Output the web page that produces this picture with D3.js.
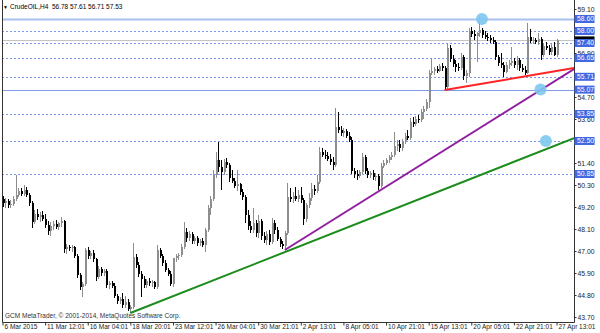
<!DOCTYPE html>
<html>
<head>
<meta charset="utf-8">
<script src="https://cdn.jsdelivr.net/npm/d3@7"></script>
<style>
    body { margin: 0; background: #fff; }
    svg { display: block; }
</style>
</head>
<body>
<div id="chart"></div>
<script>
const symbolTitle = "CrudeOIL,H4  56.78 57.61 56.71 57.53";
const copyright = "GCM MetaTrader, \u00a9 2001-2014, MetaQuotes Software Corp.";

const timeLabels = ["6 Mar 2015", "11 Mar 12:01", "16 Mar 04:01", "18 Mar 20:01", "23 Mar 12:01",
    "26 Mar 04:01", "30 Mar 21:01", "2 Apr 13:01", "8 Apr 05:01", "10 Apr 21:01",
    "15 Apr 13:01", "20 Apr 05:01", "22 Apr 21:01", "27 Apr 13:01"];
const timeLabelBars = [0, 16, 32, 48, 64, 80, 96, 112, 128, 144, 160, 176, 192, 208];
const priceTicks = [43.70, 44.80, 45.90, 47.00, 48.10, 49.20, 50.30, 51.40, 52.50,
    53.60, 54.70, 55.80, 56.90, 58.00, 59.10];

// H4 bars, oldest first
const opens = [
    49.60, 49.40, 49.50, 49.30, 49.35, 49.60, 49.80, 50.00, 49.85, 50.05,
    49.80, 49.40, 48.45, 48.85, 48.70, 48.80, 48.60, 48.30, 48.00, 48.25,
    48.35, 48.20, 48.40, 48.50, 47.10, 47.20, 47.15, 47.20, 46.75, 45.80,
    45.20, 45.35, 47.05, 46.75, 46.90, 46.60, 45.70, 46.10, 45.90, 46.00,
    45.30, 45.40, 45.25, 44.75, 44.50, 44.60, 44.30, 44.45, 44.10, 44.20,
    46.70, 46.30, 45.85, 45.60, 45.30, 45.50, 45.40, 45.45, 45.20, 47.05,
    46.75, 46.40, 46.05, 45.85, 45.35, 46.65, 46.75, 46.80, 47.20, 47.95,
    47.65, 47.85, 47.50, 47.65, 47.40, 47.50, 47.30, 48.05, 49.15, 49.60,
    50.80, 51.55, 51.20, 50.95, 51.45, 51.30, 50.65, 50.50, 50.25, 50.35,
    49.95, 49.70, 48.80, 48.25, 48.05, 48.40, 47.90, 48.50, 47.75, 47.55,
    47.85, 47.45, 48.40, 48.05, 47.60, 47.35, 47.25, 47.90, 49.70, 49.60,
    49.75, 49.60, 49.80, 49.55, 48.60, 49.30, 49.65, 50.10, 50.00, 50.45,
    51.95, 51.80, 51.75, 51.60, 51.45, 51.30, 53.20, 53.05, 52.90, 53.00,
    52.75, 52.55, 51.00, 50.85, 50.75, 50.95, 51.70, 51.00, 50.80, 50.90,
    50.70, 50.75, 50.25, 51.25, 51.40, 51.55, 51.70, 51.80, 52.25, 52.35,
    52.15, 52.50, 52.75, 52.65, 53.45, 53.35, 53.60, 53.55, 53.95, 54.10,
    54.45, 55.90, 56.00, 56.10, 56.00, 56.25, 56.15, 55.20, 57.15, 56.60,
    56.35, 56.20, 56.15, 56.70, 55.75, 55.90, 58.00, 57.85, 57.75, 57.90,
    58.05, 57.80, 57.70, 57.65, 57.55, 57.45, 56.70, 56.40, 56.30, 55.95,
    56.30, 56.40, 56.50, 56.30, 56.55, 56.15, 56.05, 55.90, 57.70, 57.50,
    57.55, 57.45, 57.60, 56.80, 57.25, 57.15, 56.95, 57.20, 56.78];
const highs = [
    49.75, 49.65, 49.60, 49.55, 49.75, 50.80, 50.15, 50.15, 50.30, 50.20,
    49.90, 49.50, 49.05, 49.10, 48.95, 49.00, 48.85, 48.50, 48.45, 48.50,
    48.55, 48.45, 48.70, 48.55, 47.35, 47.30, 47.30, 47.25, 46.85, 45.90,
    45.45, 47.15, 47.20, 47.00, 47.05, 46.65, 46.25, 46.20, 46.10, 46.10,
    45.50, 45.50, 45.40, 44.85, 44.70, 44.90, 44.75, 44.60, 44.30, 47.40,
    46.85, 46.45, 46.00, 45.75, 45.60, 45.65, 45.55, 45.50, 47.30, 47.15,
    46.85, 46.55, 46.15, 46.00, 46.65, 46.85, 46.90, 47.35, 48.45, 48.15,
    48.00, 47.95, 47.75, 47.75, 47.60, 47.65, 48.15, 49.30, 49.75, 51.05,
    51.95, 52.45, 51.55, 51.60, 51.65, 51.40, 51.05, 50.65, 51.05, 50.40,
    50.10, 49.80, 49.05, 48.50, 49.15, 48.55, 48.80, 48.60, 47.95, 48.00,
    48.05, 48.65, 48.55, 48.20, 47.70, 47.50, 48.00, 50.40, 50.15, 49.95,
    50.20, 50.05, 50.20, 49.65, 49.40, 49.90, 50.40, 50.30, 50.80, 52.20,
    52.15, 52.05, 51.95, 51.85, 51.70, 54.15, 53.95, 53.25, 53.15, 53.10,
    52.95, 52.70, 51.15, 51.05, 51.05, 51.90, 51.80, 51.15, 51.00, 51.05,
    50.90, 50.85, 51.40, 51.55, 51.65, 51.80, 51.95, 52.95, 52.55, 52.55,
    52.60, 52.90, 53.05, 53.65, 53.70, 53.75, 53.80, 54.10, 54.25, 54.60,
    56.05, 56.65, 56.20, 56.25, 56.35, 56.40, 56.25, 57.40, 57.30, 56.80,
    56.55, 56.40, 56.90, 56.80, 56.05, 58.15, 58.20, 58.05, 57.95, 58.70,
    58.15, 58.00, 57.90, 57.80, 57.70, 57.55, 56.80, 56.90, 56.45, 56.45,
    56.55, 57.20, 56.65, 56.75, 56.65, 56.35, 56.25, 58.40, 58.10, 57.70,
    57.65, 57.90, 57.70, 57.35, 57.45, 57.30, 57.35, 57.45, 57.61];
const lows = [
    49.20, 49.15, 49.15, 49.15, 49.25, 49.50, 49.70, 49.75, 49.75, 49.70,
    49.25, 48.15, 48.35, 48.55, 48.45, 48.50, 48.15, 47.80, 47.75, 48.05,
    48.10, 48.05, 48.20, 46.90, 46.85, 47.00, 46.95, 46.65, 45.65, 45.05,
    44.70, 45.25, 46.60, 46.60, 46.45, 45.50, 45.60, 45.75, 45.75, 45.15,
    45.10, 45.15, 44.65, 44.35, 44.35, 44.15, 44.15, 44.00, 43.90, 44.10,
    46.15, 45.70, 44.70, 45.15, 45.15, 45.25, 45.20, 45.10, 45.10, 46.65,
    46.25, 45.95, 45.75, 45.25, 45.20, 46.45, 46.55, 46.70, 47.10, 47.45,
    47.50, 47.35, 47.35, 47.25, 47.25, 47.20, 46.95, 47.95, 48.80, 49.50,
    50.65, 50.95, 50.05, 50.80, 51.15, 50.45, 50.40, 50.15, 50.00, 49.80,
    49.55, 48.40, 48.05, 47.90, 47.90, 47.70, 47.65, 47.55, 47.40, 47.30,
    47.30, 47.35, 47.85, 47.50, 47.20, 47.10, 47.05, 47.80, 49.45, 49.40,
    49.50, 49.45, 49.40, 48.30, 48.45, 49.15, 49.50, 49.80, 49.90, 50.35,
    51.70, 51.60, 51.50, 51.30, 51.05, 51.20, 52.90, 52.75, 52.70, 52.65,
    52.45, 50.85, 50.65, 50.55, 50.65, 50.85, 50.85, 50.65, 50.65, 50.55,
    50.50, 50.05, 50.15, 51.15, 51.30, 51.40, 51.55, 51.70, 52.00, 51.95,
    52.00, 52.35, 52.55, 52.55, 53.20, 53.25, 53.40, 53.45, 53.60, 54.00,
    54.15, 55.80, 55.80, 55.90, 55.95, 56.00, 55.05, 55.10, 56.45, 56.20,
    55.95, 56.00, 56.05, 55.55, 55.40, 55.70, 57.70, 57.55, 56.45, 57.70,
    57.65, 57.60, 57.50, 57.40, 57.35, 56.55, 56.25, 56.15, 55.70, 55.90,
    56.10, 56.25, 56.15, 56.05, 56.00, 55.95, 55.80, 55.85, 57.40, 57.35,
    57.35, 57.30, 56.55, 56.70, 57.05, 56.80, 56.80, 56.75, 56.71];
const closes = [
    49.40, 49.50, 49.30, 49.35, 49.60, 49.80, 50.00, 49.85, 50.05, 49.80,
    49.40, 48.45, 48.85, 48.70, 48.80, 48.60, 48.30, 48.00, 48.25, 48.35,
    48.20, 48.40, 48.50, 47.10, 47.20, 47.15, 47.20, 46.75, 45.80, 45.20,
    45.35, 47.05, 46.75, 46.90, 46.60, 45.70, 46.10, 45.90, 46.00, 45.30,
    45.40, 45.25, 44.75, 44.50, 44.60, 44.30, 44.45, 44.10, 44.20, 46.70,
    46.30, 45.85, 45.60, 45.30, 45.50, 45.40, 45.45, 45.20, 47.05, 46.75,
    46.40, 46.05, 45.85, 45.35, 46.65, 46.75, 46.80, 47.20, 47.95, 47.65,
    47.85, 47.50, 47.65, 47.40, 47.50, 47.30, 48.05, 49.15, 49.60, 50.80,
    51.55, 51.20, 50.95, 51.45, 51.30, 50.65, 50.50, 50.25, 50.35, 49.95,
    49.70, 48.80, 48.25, 48.05, 48.40, 47.90, 48.50, 47.75, 47.55, 47.85,
    47.45, 48.40, 48.05, 47.60, 47.35, 47.25, 47.90, 49.70, 49.60, 49.75,
    49.60, 49.80, 49.55, 48.60, 49.30, 49.65, 50.10, 50.00, 50.45, 51.95,
    51.80, 51.75, 51.60, 51.45, 51.30, 53.20, 53.05, 52.90, 53.00, 52.75,
    52.55, 51.00, 50.85, 50.75, 50.95, 51.70, 51.00, 50.80, 50.90, 50.70,
    50.75, 50.25, 51.25, 51.40, 51.55, 51.70, 51.80, 52.25, 52.35, 52.15,
    52.50, 52.75, 52.65, 53.45, 53.35, 53.60, 53.55, 53.95, 54.10, 54.45,
    55.90, 56.00, 56.10, 56.00, 56.25, 56.15, 55.20, 57.15, 56.60, 56.35,
    56.20, 56.15, 56.70, 55.75, 55.90, 58.00, 57.85, 57.75, 57.90, 58.05,
    57.80, 57.70, 57.65, 57.55, 57.45, 56.70, 56.40, 56.30, 55.95, 56.30,
    56.40, 56.50, 56.30, 56.55, 56.15, 56.05, 55.90, 57.70, 57.50, 57.55,
    57.45, 57.60, 56.80, 57.25, 57.15, 56.95, 57.20, 56.78, 57.53];

// horizontal levels drawn on the chart
const solidLevels = [58.60, 55.07];
const dottedLevels = [58.00, 57.40, 56.65, 55.71, 53.85, 52.50, 50.85];
const labelledLevels = [58.60, 58.00, 57.40, 56.65, 55.71, 55.07, 53.85, 52.50, 50.85];
const bidPrice = 57.53;

// trend lines: two anchors [bar, price], extended to the right edge
const greenTrend = [[48, 43.90], [160, 49.78]];
const purpleTrend = [[106, 47.05], [208, 55.55]];
const redTrend = [[166, 55.05], [208, 56.00]];

// touch markers
const markerBars = [180, 202, 204];
const markerPrices = [58.60, 55.07, 52.50];

const width = 600, height = 333;
const plotLeft = 2, plotRight = 574, plotTop = 0, plotBottom = 322;
const font = "'Liberation Sans', Arial, sans-serif";

const bars = closes.map((c, i) => ({ i, o: opens[i], h: highs[i], l: lows[i], c }));

const x = d3.scaleLinear().domain([0, 208]).range([2.5, 556.5]);
const y = d3.scaleLinear().domain([43.70, 59.10]).range([317, 9]);

const svg = d3.create("svg")
    .attr("width", width)
    .attr("height", height)
    .attr("viewBox", [0, 0, width, height])
    .style("font-family", font);

svg.append("rect").attr("width", width).attr("height", height).attr("fill", "#fff");

svg.append("defs").append("clipPath").attr("id", "plot")
    .append("rect")
    .attr("x", plotLeft).attr("y", plotTop)
    .attr("width", plotRight - plotLeft).attr("height", plotBottom - plotTop);

const plot = svg.append("g").attr("clip-path", "url(#plot)");

// Levels
plot.append("g")
    .selectAll("line")
    .data(solidLevels)
    .enter().append("line")
    .attr("x1", plotLeft).attr("x2", plotRight)
    .attr("y1", d => Math.round(y(d)) + 0.5)
    .attr("y2", d => Math.round(y(d)) + 0.5)
    .attr("stroke", (d, i) => i === 0 ? "#aac0f0" : "#7f9be6")
    .attr("stroke-width", (d, i) => i === 0 ? 2 : 1);

plot.append("g")
    .selectAll("line")
    .data(dottedLevels)
    .enter().append("line")
    .attr("x1", plotLeft).attr("x2", plotRight)
    .attr("y1", d => Math.round(y(d)) + 0.5)
    .attr("y2", d => Math.round(y(d)) + 0.5)
    .attr("stroke", "#7c98ea")
    .attr("stroke-dasharray", "2,2");

plot.append("line")
    .attr("x1", plotLeft).attr("x2", plotRight)
    .attr("y1", Math.round(y(bidPrice)) + 0.5)
    .attr("y2", Math.round(y(bidPrice)) + 0.5)
    .attr("stroke", "#c4c4c4");

// Candles
const candle = plot.append("g")
    .attr("shape-rendering", "crispEdges")
    .selectAll("g")
    .data(bars)
    .enter().append("g")
    .attr("fill", d => d.c >= d.o ? "#8e8e8e" : "#000")
    .attr("stroke", d => d.c >= d.o ? "#8e8e8e" : "#000");

candle.append("line")
    .attr("x1", d => Math.round(x(d.i)) + 0.5)
    .attr("x2", d => Math.round(x(d.i)) + 0.5)
    .attr("y1", d => y(d.h))
    .attr("y2", d => y(d.l));

candle.append("rect")
    .attr("stroke", "none")
    .attr("x", d => Math.round(x(d.i)) - 0.5)
    .attr("width", 2)
    .attr("y", d => y(Math.max(d.o, d.c)))
    .attr("height", d => Math.max(1, Math.abs(y(d.o) - y(d.c))));

// Trend lines
const xEnd = x.invert(plotRight);
[[greenTrend, "#1c8c1c"], [purpleTrend, "#8f1f9f"], [redTrend, "#ff2323"]].forEach(([t, color]) => {
    const slope = (t[1][1] - t[0][1]) / (t[1][0] - t[0][0]);
    plot.append("line")
        .attr("x1", x(t[0][0]))
        .attr("y1", y(t[0][1]))
        .attr("x2", x(xEnd))
        .attr("y2", y(t[0][1] + slope * (xEnd - t[0][0])))
        .attr("stroke", color)
        .attr("stroke-width", 2);
});

// Touch markers
plot.append("g")
    .selectAll("circle")
    .data(markerBars)
    .enter().append("circle")
    .attr("cx", d => x(d))
    .attr("cy", (d, i) => y(markerPrices[i]))
    .attr("r", 6)
    .attr("fill", "#7ec6ef")
    .attr("fill-opacity", 0.9);

// Frame
svg.append("path")
    .attr("d", `M${plotLeft + 0.5},${plotTop}V${plotBottom + 0.5}H${plotRight + 0.5}V${plotTop}`)
    .attr("fill", "none")
    .attr("stroke", "#333");

// Price axis
const yAxis = svg.append("g")
    .attr("transform", `translate(${plotRight + 0.5},0)`)
    .call(d3.axisRight(y).tickValues(priceTicks).tickFormat(d3.format(".2f")).tickSize(2).tickPadding(1));
yAxis.select(".domain").remove();
yAxis.selectAll("line").attr("stroke", "#333");
yAxis.selectAll("text")
    .attr("font-family", font)
    .attr("font-size", 6.8)
    .attr("fill", "#222");

// Time axis
const xAxis = svg.append("g")
    .attr("transform", `translate(0,${plotBottom + 0.5})`)
    .call(d3.axisBottom(x).tickValues(timeLabelBars).tickFormat((d, i) => timeLabels[i]).tickSize(3));
xAxis.select(".domain").remove();
xAxis.selectAll("line").attr("stroke", "#333");
xAxis.selectAll("text")
    .attr("font-family", font)
    .attr("font-size", 6.5)
    .attr("fill", "#222")
    .attr("text-anchor", "start")
    .attr("x", 1.5)
    .attr("y", 2)
    .attr("dy", "0.71em");

// Bid marker (mostly covered by the level tags)
svg.append("rect")
    .attr("x", plotRight + 0.5).attr("y", y(bidPrice) - 4)
    .attr("width", 20).attr("height", 8)
    .attr("fill", "#000");

// Level tags
const tag = svg.append("g")
    .selectAll("g")
    .data(labelledLevels)
    .enter().append("g")
    .attr("transform", d => `translate(${plotRight + 0.5},${y(d)})`);
tag.append("rect")
    .attr("y", -4).attr("width", 20).attr("height", 8)
    .attr("fill", "#4169e1");
tag.append("text")
    .attr("x", 2.5).attr("y", 2.4)
    .attr("font-size", 6.8).attr("fill", "#fff")
    .text(d => d.toFixed(2));

// Title and copyright
svg.append("text")
    .attr("x", 3).attr("y", 9)
    .attr("font-size", 5).attr("fill", "#000")
    .text("\u25bc");
svg.append("text")
    .attr("x", 10).attr("y", 9.3)
    .attr("font-size", 6.5).attr("fill", "#000")
    .attr("xml:space", "preserve")
    .text(symbolTitle);
svg.append("text")
    .attr("x", 5).attr("y", 317.5)
    .attr("font-size", 6.5).attr("fill", "#333")
    .text(copyright);

document.getElementById("chart").appendChild(svg.node());
</script>
</body>
</html>
